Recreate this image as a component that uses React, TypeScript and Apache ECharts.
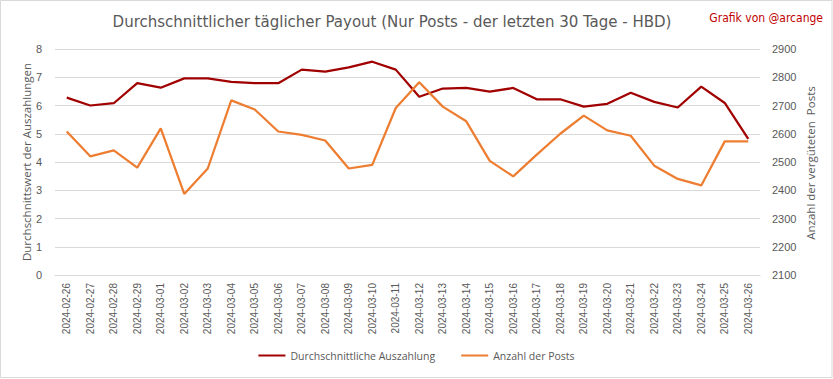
import React, { useEffect, useRef } from "react";
import * as echarts from "echarts";

const dates = [
  "2024-02-26", "2024-02-27", "2024-02-28", "2024-02-29", "2024-03-01", "2024-03-02",
  "2024-03-03", "2024-03-04", "2024-03-05", "2024-03-06", "2024-03-07", "2024-03-08",
  "2024-03-09", "2024-03-10", "2024-03-11", "2024-03-12", "2024-03-13", "2024-03-14",
  "2024-03-15", "2024-03-16", "2024-03-17", "2024-03-18", "2024-03-19", "2024-03-20",
  "2024-03-21", "2024-03-22", "2024-03-23", "2024-03-24", "2024-03-25", "2024-03-26",
];

const avgPayout = [
  6.28, 6.0, 6.08, 6.79, 6.63, 6.96, 6.96, 6.84, 6.79, 6.79, 7.27, 7.2, 7.35, 7.55, 7.27,
  6.31, 6.6, 6.62, 6.49, 6.62, 6.22, 6.22, 5.96, 6.06, 6.45, 6.13, 5.93, 6.67, 6.09, 4.82,
];

const postCount = [
  2608, 2520, 2541, 2480, 2619, 2387, 2477, 2718, 2686, 2608, 2596, 2576, 2477, 2490, 2691,
  2782, 2696, 2644, 2504, 2449, 2526, 2600, 2664, 2612, 2593, 2487, 2440, 2417, 2573, 2573,
];

const titleText = "Durchschnittlicher täglicher Payout (Nur Posts - der letzten 30 Tage - HBD)";
const creditText = "Grafik von @arcange";
const leftAxisName = "Durchschnittswert der Auszahlungen";
const rightAxisName = "Anzahl der vergüteten  Posts";
const seriesNames = ["Durchschnittliche Auszahlung", "Anzahl der Posts"];

const FONT = "'Open Sans', 'Liberation Sans', sans-serif";
const TICKFONT = "'Liberation Sans', sans-serif";
const GRAY = "#595959";

export default function App() {
  const ref = useRef<HTMLDivElement>(null);
  useEffect(() => {
    if (!ref.current) return;
    const chart = echarts.init(ref.current, null, { renderer: "svg" });
    chart.setOption({
      animation: false,
      backgroundColor: "#ffffff",
      textStyle: { fontFamily: FONT },
      graphic: [
        {
          type: "rect",
          shape: { x: 0.5, y: 0.5, width: 831.5, height: 377 },
          style: { fill: "none", stroke: "#d9d9d9", lineWidth: 1 },
          silent: true,
        },
        {
          type: "text",
          x: 392,
          y: 21,
          style: {
            text: titleText,
            fontSize: 16.7,
            fontWeight: "normal",
            fontFamily: "'Liberation Sans Narrow', 'DejaVu Sans Condensed', sans-serif",
            fill: GRAY,
            align: "center",
            verticalAlign: "middle",
          },
        },
        {
          type: "text",
          x: 823,
          y: 18,
          style: {
            text: creditText,
            fontSize: 12,
            fontFamily: "'Liberation Sans Narrow', 'DejaVu Sans Condensed', sans-serif",
            fill: "#c00000",
            align: "right",
            verticalAlign: "middle",
          },
        },
        {
          type: "text",
          x: 26,
          y: 162,
          rotation: Math.PI / 2,
          style: {
            text: leftAxisName,
            fontSize: 11.5,
            fontFamily: FONT,
            fill: GRAY,
            align: "center",
            verticalAlign: "middle",
          },
        },
        {
          type: "text",
          x: 810,
          y: 163,
          rotation: Math.PI / 2,
          style: {
            text: rightAxisName,
            fontSize: 11.5,
            fontFamily: FONT,
            fill: GRAY,
            align: "center",
            verticalAlign: "middle",
          },
        },
      ],
      legend: {
        bottom: 13,
        left: "center",
        itemWidth: 27,
        itemHeight: 2,
        itemGap: 26,
        icon: "rect",
        textStyle: { color: GRAY, fontSize: 10.5, fontFamily: FONT },
        data: seriesNames,
      },
      grid: { left: 55, right: 73, top: 49, bottom: 104 },
      xAxis: {
        type: "category",
        data: dates,
        boundaryGap: true,
        axisLine: { show: true, lineStyle: { color: "#d9d9d9" } },
        axisTick: { show: false },
        axisLabel: {
          rotate: 90,
          interval: 0,
          color: GRAY,
          fontSize: 10,
          fontFamily: TICKFONT,
          margin: 8,
        },
      },
      yAxis: [
        {
          type: "value",
          min: 0,
          max: 8,
          interval: 1,
          axisLine: { show: false },
          axisTick: { show: false },
          axisLabel: { color: GRAY, fontSize: 11, fontFamily: TICKFONT, margin: 13 },
          splitLine: { lineStyle: { color: "#d9d9d9", width: 1 } },
        },
        {
          type: "value",
          min: 2100,
          max: 2900,
          interval: 100,
          axisLine: { show: false },
          axisTick: { show: false },
          axisLabel: {
            color: GRAY,
            fontSize: 11,
            fontFamily: TICKFONT,
            margin: 12,
            formatter: (v: number) => String(v),
          },
          splitLine: { show: false },
        },
      ],
      series: [
        {
          name: seriesNames[0],
          type: "line",
          data: avgPayout,
          yAxisIndex: 0,
          symbol: "none",
          lineStyle: { color: "#a00000", width: 2.25 },
          itemStyle: { color: "#a00000" },
        },
        {
          name: seriesNames[1],
          type: "line",
          data: postCount,
          yAxisIndex: 1,
          symbol: "none",
          lineStyle: { color: "#ed7d31", width: 2.25 },
          itemStyle: { color: "#ed7d31" },
        },
      ],
    });
    return () => chart.dispose();
  }, []);
  return (
    <div
      ref={ref}
      style={{ position: "absolute", left: 0, top: 0, width: 833, height: 379 }}
    />
  );
}
